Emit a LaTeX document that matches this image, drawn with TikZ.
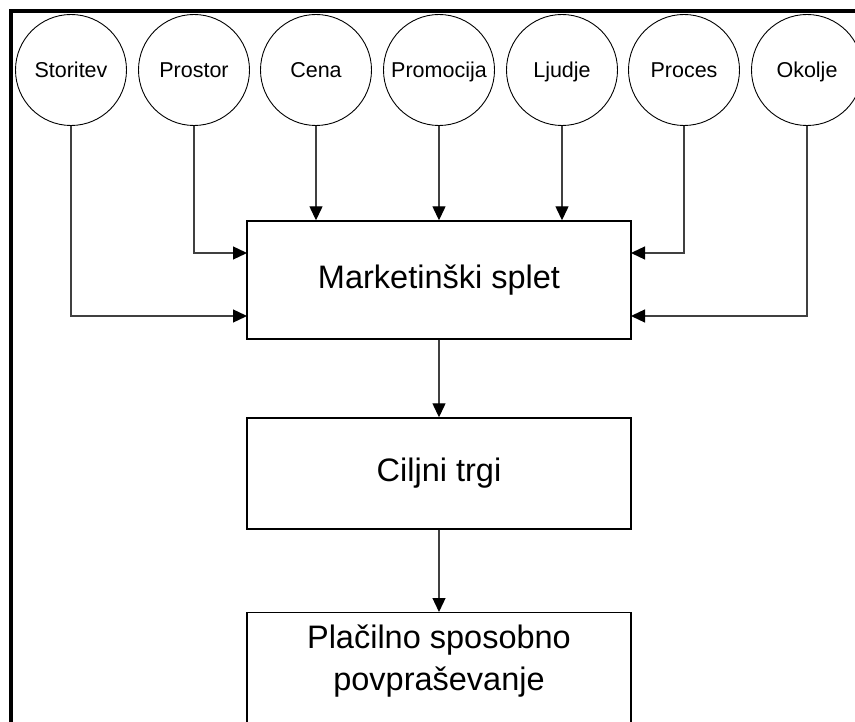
\documentclass[tikz,border=0pt]{standalone}
\usepackage{fontspec}
\setmainfont{Liberation Sans}
\usetikzlibrary{arrows.meta}

\tikzset{
  factor/.style={circle, draw=black, line width=0.9pt, minimum size=111pt, inner sep=0pt,
    text height=15.4pt, text depth=0pt,
    font=\fontsize{21.5}{24}\selectfont},
  block/.style={draw=black, line width=1.4pt, minimum width=384pt, inner sep=0pt,
    font=\fontsize{32.5}{40}\selectfont},
  link/.style={draw=black!75, line width=1.3pt,
    -{Triangle[length=14pt, width=13pt, fill=black, color=black]}},
}

\begin{document}
\begin{tikzpicture}[x=1pt, y=-1pt]
  \useasboundingbox (0,0) rectangle (855,722);
  \clip (0,0) rectangle (855,722);

  % outer frame, running past the right and bottom edges
  \draw[line width=3.5pt] (11,11) rectangle (920,800);

  % the seven elements of the mix
  \node[factor] (s1) at (71,70)  {Storitev};
  \node[factor] (s2) at (194,70) {Prostor};
  \node[factor] (s3) at (316,70) {Cena};
  \node[factor] (s4) at (439,70) {Promocija};
  \node[factor] (s5) at (562,70) {Ljudje};
  \node[factor] (s6) at (684,70) {Proces};
  \node[factor] (s7) at (807,70) {Okolje};

  % main chain of boxes
  \node[block, minimum height=118pt] (b1) at (439,280) {Marketinški splet};
  \node[block, minimum height=111pt] (b2) at (439,473.5) {Ciljni trgi};
  \node[block, minimum height=160pt, anchor=north] (b3) at (439,612) {};
  \node[font=\fontsize{32.5}{40}\selectfont, align=center, inner sep=0pt] (b3t)
    at ([yshift=-49pt]b3.north) {Plačilno sposobno\\[2pt]povpraševanje};

  % entry points on the sides of the main box
  \coordinate (l1) at (247,253);
  \coordinate (l2) at (247,316);
  \coordinate (r1) at (631,253);
  \coordinate (r2) at (631,316);

  \draw[link] (s1.south) |- (l2);
  \draw[link] (s2.south) |- (l1);
  \draw[link] (s3.south) -- (s3.south |- b1.north);
  \draw[link] (s4.south) -- (s4.south |- b1.north);
  \draw[link] (s5.south) -- (s5.south |- b1.north);
  \draw[link] (s6.south) |- (r1);
  \draw[link] (s7.south) |- (r2);

  \draw[link] (b1.south) -- (b2.north);
  \draw[link] (b2.south) -- (b3.north);
\end{tikzpicture}
\end{document}
